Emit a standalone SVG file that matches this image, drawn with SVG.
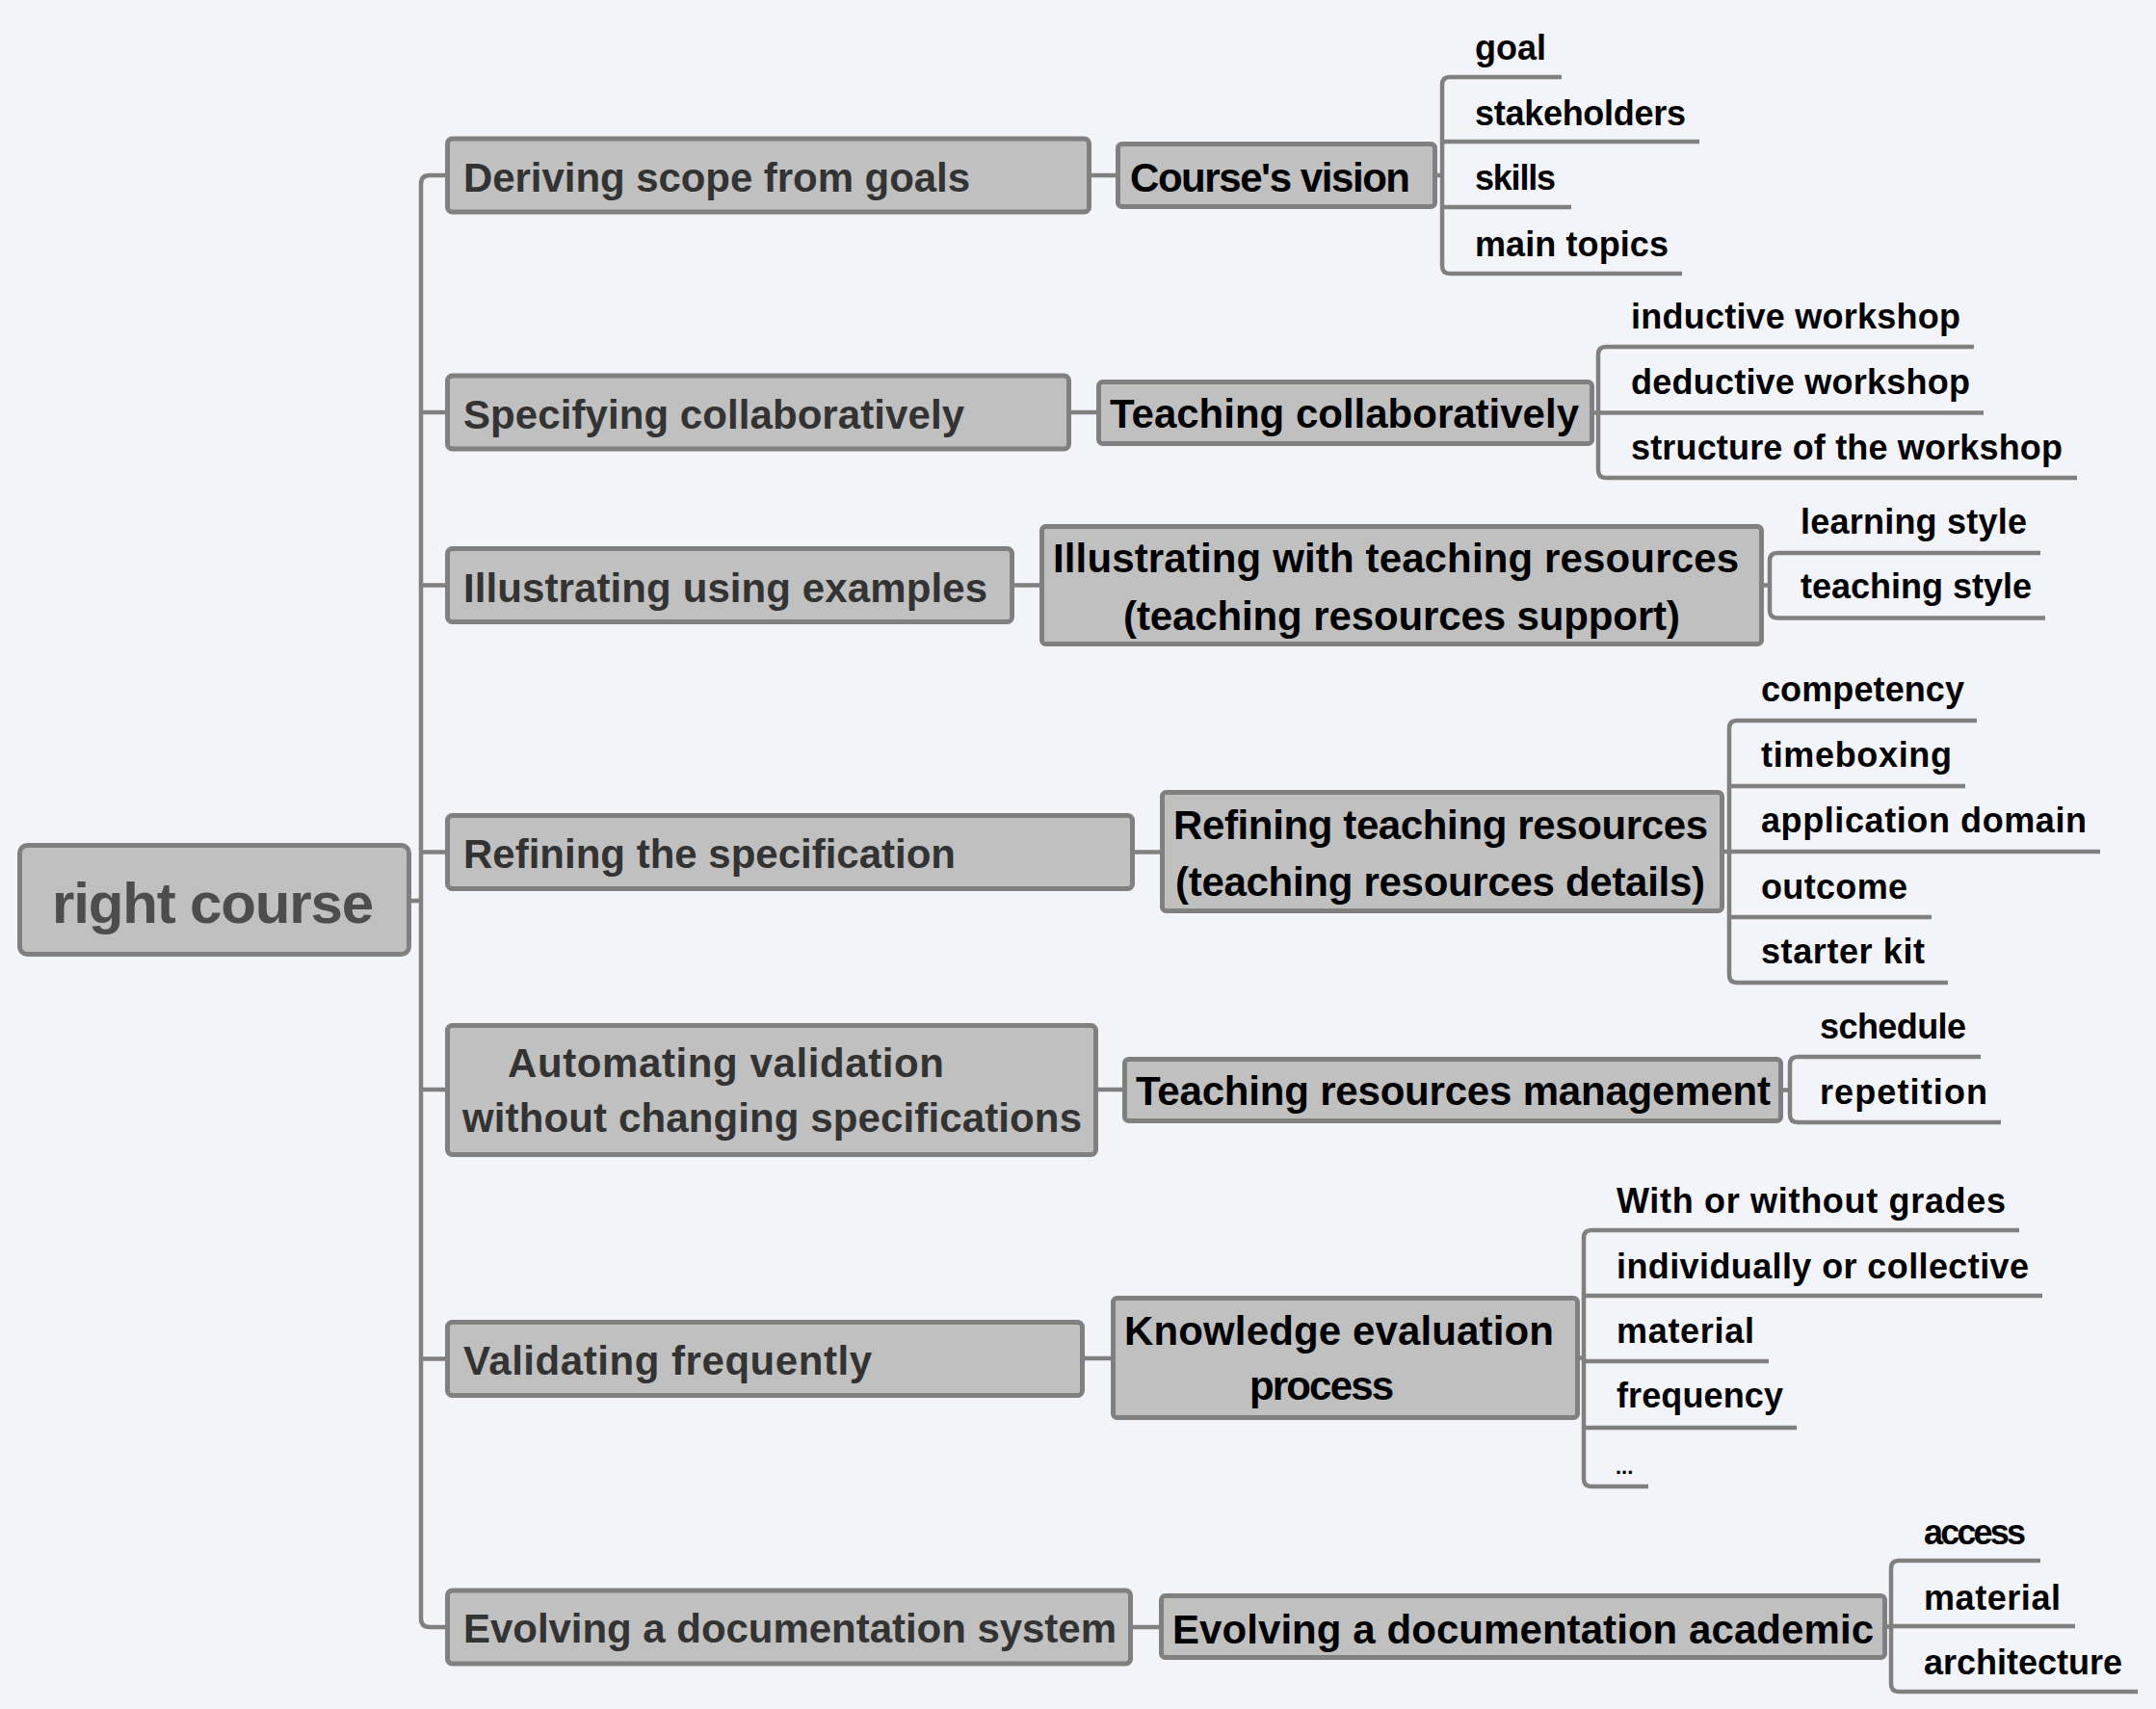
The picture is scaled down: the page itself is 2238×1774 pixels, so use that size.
<svg xmlns="http://www.w3.org/2000/svg" width="2238" height="1774" viewBox="0 0 2238 1774">
<style>
text{font-family:"Liberation Sans",Arial,sans-serif;font-weight:bold;}
.root rect{fill:#c0c0c0;stroke:#808080;stroke-width:5;}
.root text{font-size:60px;fill:#4d4d4d;}
.l1 rect{fill:#c0c0c0;stroke:#808080;stroke-width:5;}
.l1 text{font-size:42px;fill:#333333;}
.l2 rect{fill:#c0c0c0;stroke:#808080;stroke-width:5;}
.l2 text{font-size:42px;fill:#000000;}
.leaf text{font-size:36px;fill:#000000;}
.conn path{fill:none;stroke:#808080;stroke-width:4.5;}
</style>
<rect x="0" y="0" width="2238" height="1774" fill="#f3f4f9"/>

<g class="conn" id="connectors">
  <path d="M427 935 H437"/>
  <path d="M464 182 H446 Q437 182 437 191 V1680 Q437 1689 446 1689 H464"/>
  <path d="M437 428 H464"/>
  <path d="M437 607.5 H464"/>
  <path d="M437 884.5 H464"/>
  <path d="M437 1131 H464"/>
  <path d="M437 1410.5 H464"/>
  <path d="M1133 182 H1158"/>
  <path d="M1112 428 H1138"/>
  <path d="M1053 607.5 H1079"/>
  <path d="M1178 884.5 H1204"/>
  <path d="M1140 1131 H1165"/>
  <path d="M1126 1410 H1153"/>
  <path d="M1176 1689 H1203"/>
  <path d="M1492 182 H1497"/>
  <path d="M1621 80 H1505 Q1497 80 1497 88 V276 Q1497 284 1505 284 H1746"/>
  <path d="M1497 147 H1764"/>
  <path d="M1497 215 H1631"/>
  <path d="M1655 428.5 H1659"/>
  <path d="M2049 360 H1667 Q1659 360 1659 368 V488 Q1659 496 1667 496 H2156"/>
  <path d="M1659 428.5 H2059"/>
  <path d="M1831 607.5 H1837"/>
  <path d="M2118 574 H1845 Q1837 574 1837 582 V633.5 Q1837 641.5 1845 641.5 H2123"/>
  <path d="M1790 884 H1795"/>
  <path d="M2052 748 H1803 Q1795 748 1795 756 V1012 Q1795 1020 1803 1020 H2022"/>
  <path d="M1795 816 H2040"/>
  <path d="M1795 884 H2180"/>
  <path d="M1795 952 H2005"/>
  <path d="M1851 1131.5 H1858"/>
  <path d="M2056 1097 H1866 Q1858 1097 1858 1105 V1157 Q1858 1165 1866 1165 H2077"/>
  <path d="M1640 1409.5 H1644"/>
  <path d="M2096 1277 H1652 Q1644 1277 1644 1285 V1535 Q1644 1543 1652 1543 H1711"/>
  <path d="M1644 1345 H2120"/>
  <path d="M1644 1413 H1836"/>
  <path d="M1644 1482 H1865"/>
  <path d="M1959 1688.5 H1963"/>
  <path d="M2118 1620 H1971 Q1963 1620 1963 1628 V1748 Q1963 1756 1971 1756 H2219"/>
  <path d="M1963 1688 H2154"/>
</g>

<g id="root" class="root">
  <rect x="20.5" y="877.5" width="404" height="113" rx="8"/>
  <text x="54" y="958" textLength="334">right course</text>
</g>

<g id="n-deriving" class="l1">
  <rect x="464.5" y="144" width="666" height="76" rx="5"/>
  <text x="481" y="199" textLength="526">Deriving scope from goals</text>
</g>
<g id="n-specifying" class="l1">
  <rect x="464.5" y="390" width="645" height="76" rx="5"/>
  <text x="481" y="445" textLength="520">Specifying collaboratively</text>
</g>
<g id="n-illustrating" class="l1">
  <rect x="464.5" y="569.5" width="586" height="76" rx="5"/>
  <text x="481" y="625" textLength="544">Illustrating using examples</text>
</g>
<g id="n-refining" class="l1">
  <rect x="464.5" y="846.5" width="711" height="76" rx="5"/>
  <text x="481" y="901" textLength="511">Refining the specification</text>
</g>
<g id="n-automating" class="l1">
  <rect x="464.5" y="1064.5" width="673" height="134" rx="5"/>
  <text x="527" y="1118" textLength="453">Automating validation</text>
  <text x="480" y="1175" textLength="643">without changing specifications</text>
</g>
<g id="n-validating" class="l1">
  <rect x="464.5" y="1372.5" width="659" height="76" rx="5"/>
  <text x="481" y="1427" textLength="424">Validating frequently</text>
</g>
<g id="n-evolving" class="l1">
  <rect x="464.5" y="1651" width="709" height="76" rx="5"/>
  <text x="481" y="1705" textLength="678">Evolving a documentation system</text>
</g>

<g id="n-vision" class="l2">
  <rect x="1160.5" y="149.5" width="329" height="65" rx="4"/>
  <text x="1173" y="199" textLength="291">Course's vision</text>
</g>
<g id="n-teaching-collab" class="l2">
  <rect x="1140.5" y="396.5" width="512" height="64" rx="4"/>
  <text x="1152" y="444" textLength="487">Teaching collaboratively</text>
</g>
<g id="n-illustrating-res" class="l2">
  <rect x="1081.5" y="546.5" width="747" height="122" rx="4"/>
  <text x="1093" y="594" textLength="712">Illustrating with teaching resources</text>
  <text x="1166" y="654" textLength="578">(teaching resources support)</text>
</g>
<g id="n-refining-res" class="l2">
  <rect x="1206.5" y="822.5" width="581" height="123" rx="4"/>
  <text x="1218" y="871" textLength="555">Refining teaching resources</text>
  <text x="1220" y="930" textLength="550">(teaching resources details)</text>
</g>
<g id="n-trm" class="l2">
  <rect x="1167.5" y="1099.5" width="681" height="64" rx="4"/>
  <text x="1179" y="1147" textLength="659">Teaching resources management</text>
</g>
<g id="n-knowledge" class="l2">
  <rect x="1155.5" y="1347.5" width="482" height="124" rx="4"/>
  <text x="1167" y="1396" textLength="446">Knowledge evaluation</text>
  <text x="1297" y="1453" textLength="150">process</text>
</g>
<g id="n-evolving-acad" class="l2">
  <rect x="1205.5" y="1656.5" width="751" height="64" rx="4"/>
  <text x="1217" y="1706" textLength="728">Evolving a documentation academic</text>
</g>

<g id="leaf-goal" class="leaf"><text x="1531" y="62" textLength="74">goal</text></g>
<g id="leaf-stakeholders" class="leaf"><text x="1531" y="130" textLength="219">stakeholders</text></g>
<g id="leaf-skills" class="leaf"><text x="1531" y="197" textLength="84">skills</text></g>
<g id="leaf-main-topics" class="leaf"><text x="1531" y="266" textLength="201">main topics</text></g>

<g id="leaf-inductive" class="leaf"><text x="1693" y="341" textLength="342">inductive workshop</text></g>
<g id="leaf-deductive" class="leaf"><text x="1693" y="409" textLength="352">deductive workshop</text></g>
<g id="leaf-structure" class="leaf"><text x="1693" y="477" textLength="448">structure of the workshop</text></g>

<g id="leaf-learning" class="leaf"><text x="1869" y="554" textLength="235">learning style</text></g>
<g id="leaf-teaching-style" class="leaf"><text x="1869" y="621" textLength="240">teaching style</text></g>

<g id="leaf-competency" class="leaf"><text x="1828" y="728" textLength="211">competency</text></g>
<g id="leaf-timeboxing" class="leaf"><text x="1828" y="796" textLength="198">timeboxing</text></g>
<g id="leaf-application" class="leaf"><text x="1828" y="864" textLength="338">application domain</text></g>
<g id="leaf-outcome" class="leaf"><text x="1828" y="933" textLength="152">outcome</text></g>
<g id="leaf-starter" class="leaf"><text x="1828" y="1000" textLength="170">starter kit</text></g>

<g id="leaf-schedule" class="leaf"><text x="1889" y="1078" textLength="152">schedule</text></g>
<g id="leaf-repetition" class="leaf"><text x="1889" y="1146" textLength="174">repetition</text></g>

<g id="leaf-grades" class="leaf"><text x="1678" y="1259" textLength="404">With or without grades</text></g>
<g id="leaf-individually" class="leaf"><text x="1678" y="1327" textLength="428">individually or collective</text></g>
<g id="leaf-material-1" class="leaf"><text x="1678" y="1394" textLength="143">material</text></g>
<g id="leaf-frequency" class="leaf"><text x="1678" y="1461" textLength="173">frequency</text></g>
<g id="leaf-etc" class="leaf"><text x="1677" y="1530" style="font-size:22px">...</text></g>

<g id="leaf-access" class="leaf"><text x="1997" y="1603" textLength="106">access</text></g>
<g id="leaf-material-2" class="leaf"><text x="1997" y="1671" textLength="142">material</text></g>
<g id="leaf-architecture" class="leaf"><text x="1997" y="1738" textLength="206">architecture</text></g>
</svg>
